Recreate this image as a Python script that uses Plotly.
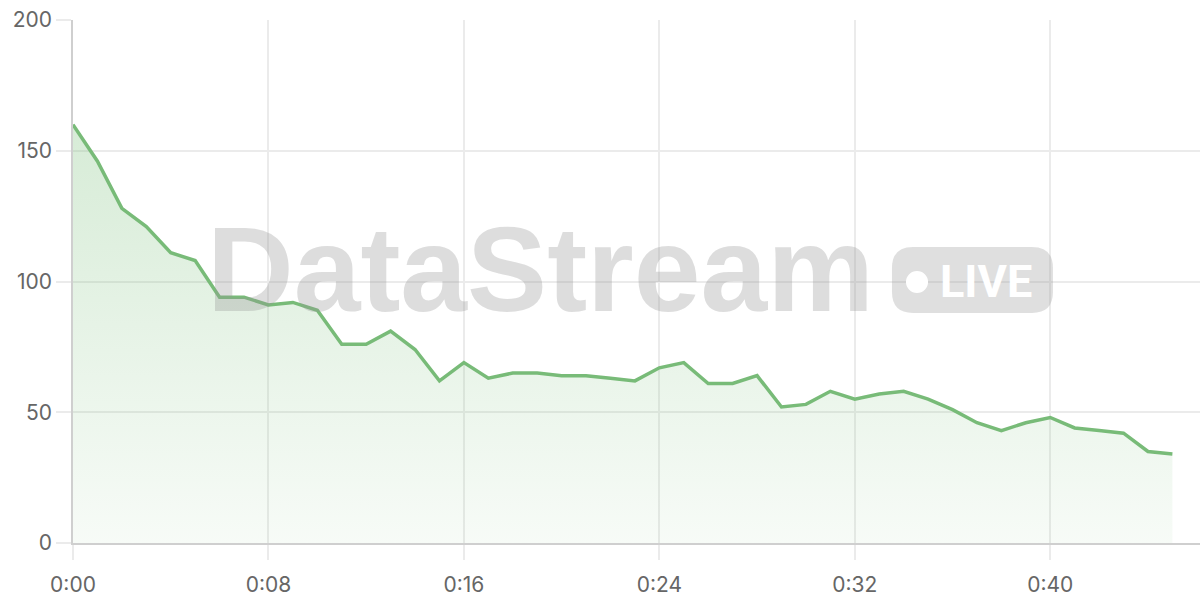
import plotly.graph_objects as go

minutes = list(range(46))
values = [160, 146, 128, 121, 111, 108, 94, 94, 91, 92,
          89, 76, 76, 81, 74, 62, 69, 63, 65, 65,
          64, 64, 63, 62, 67, 69, 61, 61, 64, 52,
          53, 58, 55, 57, 58, 55, 51, 46, 43, 46,
          48, 44, 43, 42, 35, 34]

x_ticks = [0, 8, 16, 24, 32, 40]
x_labels = ["0:00", "0:08", "0:16", "0:24", "0:32", "0:40"]
y_ticks = [0, 50, 100, 150, 200]

grid = "#ebebeb"
axis_line = "#cfcfcf"
label_color = "#666666"

fig = go.Figure()

fig.add_trace(go.Scatter(
    x=minutes,
    y=values,
    mode="lines",
    line=dict(color="#78bb78", width=3.5),
    fill="tozeroy",
    fillgradient=dict(
        type="vertical",
        colorscale=[[0, "rgba(120,190,120,0.06)"], [1, "rgba(120,190,120,0.30)"]],
    ),
    hoverinfo="x+y",
    showlegend=False,
))

# watermark "DataStream" + LIVE badge (paper coords = plot area)
fig.add_annotation(
    text="<b>DataStream</b>",
    xref="paper", yref="paper",
    x=0.4144, y=0.523, xanchor="center", yanchor="middle",
    showarrow=False,
    font=dict(family="Liberation Sans", size=120, color="rgba(150,150,150,0.32)"),
)

bx0, bx1, by0, by1 = 0.7267, 0.8695, 0.4398, 0.5660
rx, ry = 0.0186, 0.0400
badge = (f"M {bx0+rx},{by0} L {bx1-rx},{by0} Q {bx1},{by0} {bx1},{by0+ry} "
         f"L {bx1},{by1-ry} Q {bx1},{by1} {bx1-rx},{by1} L {bx0+rx},{by1} "
         f"Q {bx0},{by1} {bx0},{by1-ry} L {bx0},{by0+ry} Q {bx0},{by0} {bx0+rx},{by0} Z")
fig.add_shape(
    type="path", path=badge, xref="paper", yref="paper",
    line=dict(width=0), fillcolor="rgba(150,150,150,0.30)",
    layer="above",
)
fig.add_shape(
    type="circle", xref="paper", yref="paper",
    x0=0.7391, x1=0.7587, y0=0.478, y1=0.520,
    line=dict(width=0), fillcolor="white", layer="above",
)
fig.add_annotation(
    text="<b>LIVE</b>",
    xref="paper", yref="paper",
    x=0.8525, y=0.5, xanchor="right", yanchor="middle",
    showarrow=False,
    font=dict(family="Roboto", size=45, color="white"),
)

fig.update_xaxes(
    range=[0, 46.13],
    tickvals=x_ticks, ticktext=x_labels,
    showgrid=True, gridcolor=grid, gridwidth=1.5,
    showline=True, linecolor=axis_line, linewidth=1.5,
    ticks="outside", ticklen=15, tickcolor=grid, tickwidth=1.5,
    ticklabelstandoff=7,
    tickfont=dict(family="Inter", size=21, color=label_color),
    zeroline=False,
)
fig.update_yaxes(
    range=[0, 200],
    tickvals=y_ticks,
    showgrid=True, gridcolor=grid, gridwidth=1.5,
    showline=True, linecolor=axis_line, linewidth=1.5,
    ticks="outside", ticklen=15, tickcolor=grid, tickwidth=1.5,
    tickfont=dict(family="Inter", size=21, color=label_color),
    zeroline=False,
)

fig.update_layout(
    width=1200, height=600,
    margin=dict(l=73, r=0, t=20, b=57),
    plot_bgcolor="white",
    paper_bgcolor="white",
)

fig.write_html("out.html", config={"displayModeBar": False},
               post_script="document.body.style.margin='0';")
